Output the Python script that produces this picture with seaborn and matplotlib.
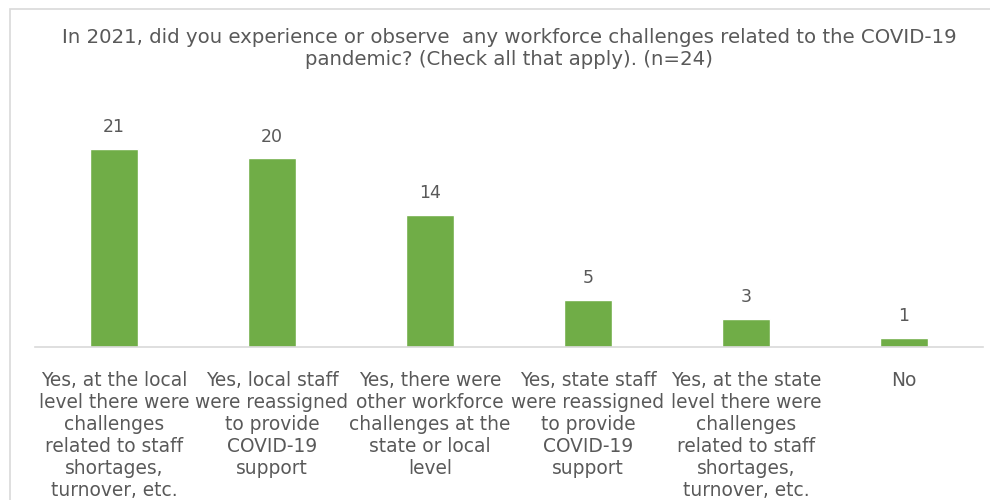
import matplotlib
matplotlib.use("Agg")
import matplotlib.pyplot as plt
import seaborn as sns
import pandas as pd
from matplotlib.patches import Rectangle

categories = [
    "Yes, at the local\nlevel there were\nchallenges\nrelated to staff\nshortages,\nturnover, etc.",
    "Yes, local staff\nwere reassigned\nto provide\nCOVID-19\nsupport",
    "Yes, there were\nother workforce\nchallenges at the\nstate or local\nlevel",
    "Yes, state staff\nwere reassigned\nto provide\nCOVID-19\nsupport",
    "Yes, at the state\nlevel there were\nchallenges\nrelated to staff\nshortages,\nturnover, etc.",
    "No",
]
counts = [21, 20, 14, 5, 3, 1]
title = ("In 2021, did you experience or observe  any workforce challenges related to the COVID-19\n"
         "pandemic? (Check all that apply). (n=24)")

df = pd.DataFrame({"category": categories, "count": counts})

sns.set_theme(style="white")
plt.rcParams["font.family"] = ["DejaVu Sans"]

text_color = "#595959"
bar_color = "#70AD47"

fig = plt.figure(figsize=(9.9, 5.0), dpi=100)
fig.patch.set_facecolor("white")

# light frame around the chart area
fig.add_artist(Rectangle((10 / 990, -0.05), 1.2, 1.05 - 9 / 500,
                         transform=fig.transFigure, fill=False,
                         edgecolor="#D9D9D9", linewidth=1.2))

ax = fig.add_axes([35 / 990, 153 / 500, 948 / 990, 247 / 500])
sns.barplot(data=df, x="category", y="count", color=bar_color,
            width=0.31, saturation=1, ax=ax)

ax.set_ylim(0, 247 / 9.43)
ax.set_xlim(-0.5, len(categories) - 0.5)
for side in ["top", "right", "left"]:
    ax.spines[side].set_visible(False)
ax.spines["bottom"].set_color("#D9D9D9")
ax.spines["bottom"].set_linewidth(1.2)
ax.set_yticks([])
ax.set_xlabel("")
ax.set_ylabel("")
ax.tick_params(axis="x", length=0, pad=17, labelsize=13.4, colors=text_color)
for lbl in ax.get_xticklabels():
    lbl.set_linespacing(1.2)

for container in ax.containers:
    ax.bar_label(container, labels=[str(v) for v in counts], padding=9,
                 fontsize=12.5, color=text_color)

fig.text(0.514, 1 - 28 / 500, title, ha="center", va="top", fontsize=14.2,
         color=text_color, linespacing=1.17)

fig.savefig("out.png", dpi=100, facecolor="white")
